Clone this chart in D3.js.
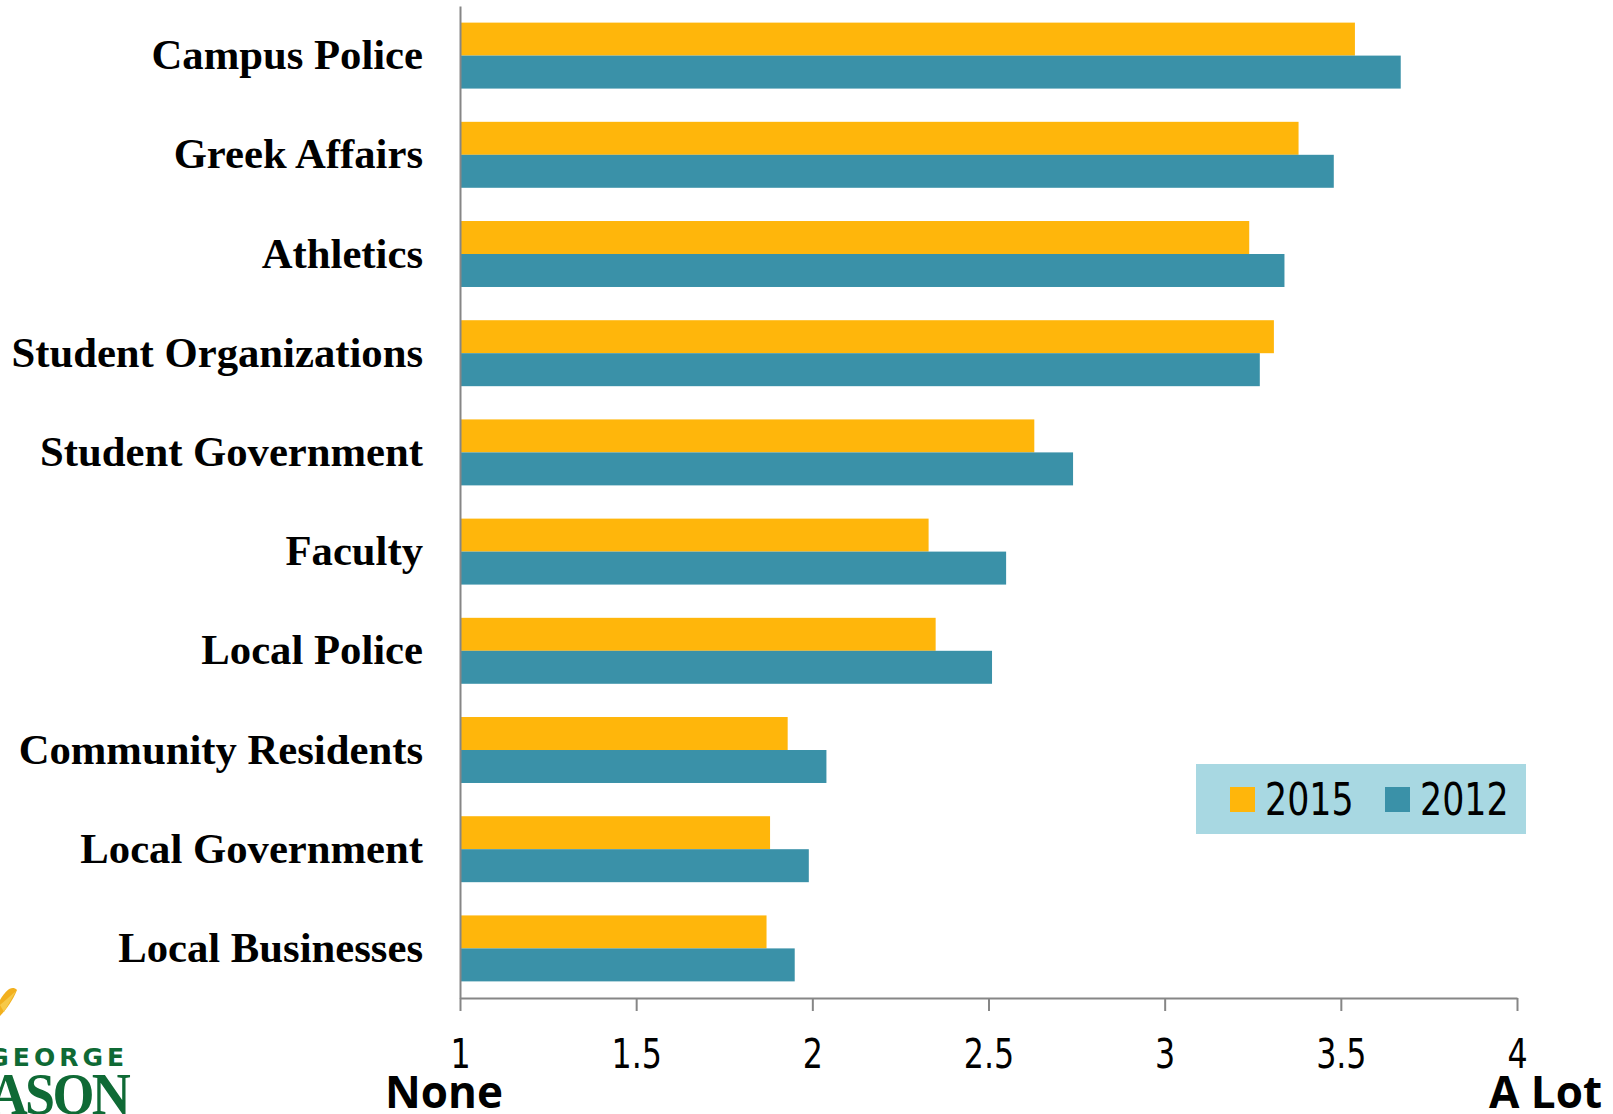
<!DOCTYPE html>
<html><head><meta charset="utf-8">
<script src="https://cdn.jsdelivr.net/npm/d3@7"></script>
<style>
html,body{margin:0;padding:0;background:#fff;}
svg{display:block;}
</style></head>
<body>
<svg id="chart" width="1613" height="1114"></svg>
<script>
const categories = ["Campus Police","Greek Affairs","Athletics","Student Organizations","Student Government","Faculty","Local Police","Community Residents","Local Government","Local Businesses"];
const seriesNames = ["2015","2012"];
const values2015 = [3.54,3.38,3.24,3.31,2.63,2.33,2.35,1.93,1.88,1.87];
const values2012 = [3.67,3.48,3.34,3.27,2.74,2.55,2.51,2.04,1.99,1.95];
const tickValues = [1,1.5,2,2.5,3,3.5,4];
const tickLabels = ["1","1.5","2","2.5","3","3.5","4"];
const axisEndLabels = ["None","A Lot"];
const colors = {"2015":"#FFB60B","2012":"#3A91A8"};

const svg = d3.select("#chart");
const x = d3.scaleLinear().domain([1,4]).range([460,1517]);
const y = d3.scaleBand().domain(categories).range([6,998]).paddingInner(0.335).paddingOuter(0.1675);
const ys = d3.scaleBand().domain(seriesNames).range([0,y.bandwidth()]);

const data = categories.map((c,i)=>({cat:c, vals:[{s:"2015",v:values2015[i]},{s:"2012",v:values2012[i]}]}));

const g = svg.append("g");
g.selectAll("g.grp").data(data).join("g").attr("class","grp")
  .attr("transform",d=>`translate(0,${y(d.cat)})`)
  .selectAll("rect").data(d=>d.vals).join("rect")
  .attr("x",x(1)).attr("y",d=>ys(d.s)).attr("height",ys.bandwidth())
  .attr("width",d=>x(d.v)-x(1)).attr("fill",d=>colors[d.s]);

const narrowFont = "'Liberation Sans Narrow','DejaVu Sans Condensed',sans-serif";

// axes
const xAxis = d3.axisBottom(x).tickValues(tickValues).tickFormat((d,i)=>tickLabels[i]).tickSize(13).tickSizeOuter(0);
const xg = svg.append("g").attr("transform",`translate(0,998)`).call(xAxis);
xg.select(".domain").attr("stroke","#868686").attr("stroke-width",2);
xg.selectAll(".tick line").attr("stroke","#868686").attr("stroke-width",2);
xg.selectAll(".tick text").attr("fill","#000")
  .style("font-family",narrowFont)
  .style("font-size","41px").attr("y",41).attr("dy","0.71em").attr("transform","scale(0.86,1)");

const yAxis = d3.axisLeft(y).tickSize(0).tickPadding(37);
const yg = svg.append("g").attr("transform",`translate(460,0)`).call(yAxis);
yg.select(".domain").attr("stroke","#868686").attr("stroke-width",2);
yg.selectAll(".tick text").attr("fill","#000")
  .style("font-family","'Liberation Serif','Times New Roman',serif")
  .style("font-weight","bold").style("font-size","42.7px");

// end labels
svg.append("text").attr("x",444).attr("y",1108).attr("text-anchor","middle")
  .style("font-family","'Open Sans',Lato,sans-serif").style("font-weight","bold").style("font-size","44px").text(axisEndLabels[0]);
svg.append("text").attr("x",1602).attr("y",1108).attr("text-anchor","end")
  .style("font-family","'Open Sans',Lato,sans-serif").style("font-weight","bold").style("font-size","44px").text(axisEndLabels[1]);

// legend
const lg = svg.append("g");
lg.append("rect").attr("x",1196).attr("y",764).attr("width",330).attr("height",70).attr("fill","#A8D8E2");
const legendX = [1230,1385];
seriesNames.forEach((s,i)=>{
  lg.append("rect").attr("x",legendX[i]).attr("y",787).attr("width",25).attr("height",25).attr("fill",colors[s]);
  lg.append("text").attr("transform",`translate(${legendX[i]+35},815) scale(0.86,1)`)
    .style("font-family",narrowFont)
    .style("font-size","45px").attr("fill","#000").text(s);
});

// logo (partial)
const logo = svg.append("g");
logo.append("path").attr("d","M0,1000 C6,990 12,985 17,990 C13,1000 6,1010 0,1016 Z").attr("fill","#F2B01E");
logo.append("path").attr("d","M0,1005 L16,991 L4,1012 Z").attr("fill","#F7C948");
logo.append("text").attr("x",128).attr("y",1066).attr("text-anchor","end")
  .style("font-family","'DejaVu Sans',sans-serif").style("font-weight","bold").style("font-size","25px")
  .attr("letter-spacing","4").attr("fill","#0F6A35").text("GEORGE");
logo.append("text").attr("transform","translate(128,1114) scale(0.9,1)").attr("text-anchor","end")
  .style("font-family","'Liberation Serif',serif").style("font-weight","bold").style("font-size","60px")
  .attr("fill","#0F6A35").attr("letter-spacing","-3").text("MASON");
</script>
</body></html>
